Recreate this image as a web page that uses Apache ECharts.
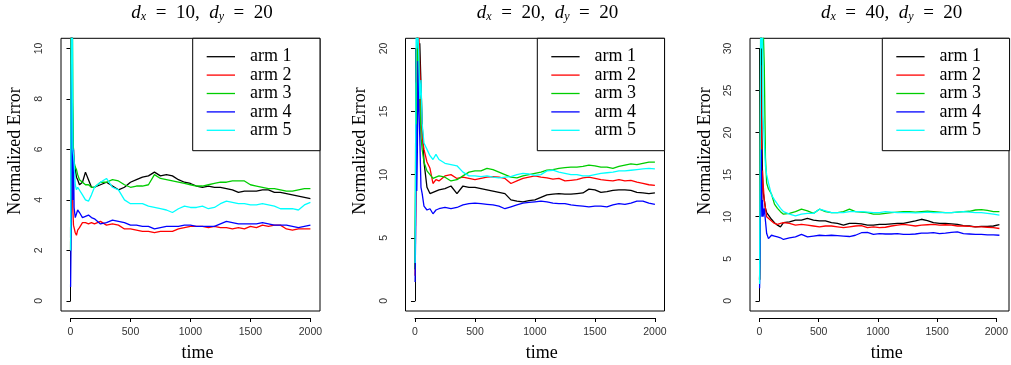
<!DOCTYPE html>
<html>
<head>
<meta charset="utf-8">
<script src="https://cdn.jsdelivr.net/npm/echarts@6/dist/echarts.min.js"></script>
<style>
html,body{margin:0;padding:0;background:#fff;}
#chart{width:1011px;height:365px;}
</style>
</head>
<body>
<div id="chart"></div>
<script>
// ---- data ----
const times = [1,5,10,15,20,25,30,40,50,60,75,100,125,150,175,200,
  250,300,350,400,450,500,550,600,650,700,750,800,850,900,950,1000,1050,1100,1150,1200,
  1250,1300,1350,1400,1450,1500,1550,1600,1650,1700,1750,1800,1850,1900,1950,2000];

const armNames = ['arm 1','arm 2','arm 3','arm 4','arm 5'];
const xTicks = [0,500,1000,1500,2000];

// panel 1: d_x = 10
const p1Arm1 = [2.5,11,13,8,6.5,6.0,5.4,5.2,4.9,4.8,4.6,4.7,5.1,4.8,4.5,4.5,
  4.6,4.7,4.55,4.4,4.5,4.7,4.8,4.9,4.95,5.1,4.95,5.0,4.95,4.8,4.7,4.65,4.55,4.5,4.55,4.5,
  4.5,4.45,4.4,4.3,4.35,4.35,4.35,4.4,4.4,4.3,4.3,4.25,4.2,4.15,4.1,4.05];
const p1Arm2 = [2.0,9,14,5,3.6,3.0,2.9,2.7,2.6,2.8,2.9,3.1,3.1,3.05,3.1,3.05,
  3.15,3.0,3.05,3.0,2.85,2.85,2.8,2.75,2.75,2.7,2.75,2.75,2.75,2.85,2.9,2.95,2.95,2.95,2.9,2.95,
  2.9,2.9,2.85,2.9,2.85,2.95,2.9,3.0,2.95,3.0,3.0,2.85,2.8,2.85,2.85,2.85];
const p1Arm3 = [2.0,10,14,12,8,5.8,5.5,5.3,5.2,5.0,4.8,4.7,4.6,4.6,4.5,4.5,
  4.7,4.7,4.8,4.75,4.6,4.5,4.55,4.55,4.6,5.0,4.85,4.8,4.75,4.7,4.65,4.6,4.55,4.55,4.6,4.65,
  4.7,4.7,4.75,4.75,4.75,4.6,4.55,4.5,4.45,4.45,4.4,4.35,4.35,4.4,4.45,4.45];
const p1Arm4 = [0.55,2.5,12,7.4,4.0,6.0,3.7,3.3,3.3,3.6,3.5,3.3,3.35,3.4,3.3,3.25,
  3.05,3.1,3.2,3.15,3.1,3.0,3.0,2.95,2.95,2.85,2.9,2.95,2.95,2.95,3.0,3.0,2.95,2.95,2.95,2.95,
  3.05,3.15,3.1,3.05,3.05,3.05,3.05,3.1,3.05,3.0,3.0,3.0,2.95,2.9,2.95,3.0];
const p1Arm5 = [2.0,8,14,12,6,5.8,5.5,4.6,4.4,4.5,4.5,4.2,4.0,3.95,4.2,4.5,
  4.7,4.85,4.5,4.4,4.0,3.85,3.85,3.85,3.75,3.7,3.65,3.6,3.5,3.65,3.75,3.7,3.7,3.75,3.65,3.7,
  3.85,3.95,3.9,3.85,3.85,3.8,3.8,3.85,3.8,3.75,3.65,3.65,3.65,3.6,3.8,3.9];

// panel 2: d_x = 20
const p2Arm1 = [2.5,8,15,19,22,18,15,20.4,20.4,14,11,9.0,8.5,8.6,8.7,8.8,
  8.9,9.1,8.5,9.1,9.0,9.0,8.9,8.8,8.7,8.6,8.5,8.0,7.9,7.85,7.95,8.0,8.2,8.4,8.45,8.5,
  8.45,8.45,8.5,8.55,8.85,8.8,8.6,8.65,8.75,8.8,8.8,8.75,8.6,8.55,8.5,8.55];
const p2Arm2 = [2.0,6,14,20,22,16,22,22,15,13,12,11,10.5,9.3,9.6,9.5,
  9.9,10.0,9.7,9.8,9.7,9.6,9.7,9.8,9.85,9.8,9.7,9.3,9.5,9.7,9.8,9.9,9.8,9.75,9.65,9.7,
  9.5,9.55,9.6,9.75,9.8,9.7,9.6,9.55,9.5,9.6,9.5,9.55,9.4,9.3,9.2,9.15];
const p2Arm3 = [2.5,12,17.3,12,22,19,20,16,13,12,11,10.3,10.0,9.7,9.8,9.9,
  9.8,9.5,9.6,9.9,10.2,10.3,10.3,10.5,10.4,10.2,10.0,9.8,9.75,9.9,10.0,10.1,10.2,10.35,10.4,10.5,
  10.55,10.6,10.6,10.65,10.75,10.7,10.6,10.6,10.5,10.65,10.75,10.85,10.8,10.9,11.0,11.0];
const p2Arm4 = [1.5,5,14,8.7,12,19,16,13,9,8.5,7.5,7.2,7.3,6.9,7.2,7.3,
  7.4,7.3,7.4,7.6,7.7,7.75,7.7,7.65,7.6,7.5,7.3,7.45,7.6,7.75,7.8,7.85,7.9,7.85,7.75,7.7,
  7.7,7.6,7.55,7.5,7.45,7.5,7.5,7.45,7.6,7.7,7.65,7.75,7.9,7.9,7.75,7.65];
const p2Arm5 = [3.0,10,22,20,22,21,20,16,17.5,14,12.5,12.0,11.5,11.2,11.6,11.2,
  10.9,10.8,10.7,10.2,9.9,9.9,9.85,9.9,9.8,9.75,9.8,9.85,10.0,10.1,10.05,9.95,10.0,10.3,10.35,10.2,
  10.1,10.0,10.0,9.9,9.9,10.0,10.1,10.15,10.2,10.3,10.3,10.35,10.4,10.45,10.5,10.45];

// panel 3: d_x = 40
const p3Arm1 = [2.5,8,25,33,20,15,13,12,11,10.5,10.2,9.7,9.3,9.0,8.8,9.3,
  9.4,9.6,9.6,9.8,9.6,9.5,9.5,9.3,9.2,9.0,9.2,9.2,9.15,9.0,9.0,9.1,9.1,9.15,9.2,9.2,
  9.35,9.5,9.7,9.55,9.3,9.2,9.2,9.15,9.1,8.95,8.9,8.8,8.85,8.85,8.9,9.05];
const p3Arm2 = [2.5,10,28,20,12,15.5,14,12,11,10,10.0,9.5,9.2,9.1,9.2,9.3,
  9.2,9.0,9.1,9.0,8.9,8.8,8.9,8.9,8.8,8.7,8.8,8.9,8.95,8.7,8.8,8.7,8.75,8.9,9.0,9.1,
  9.0,8.9,9.0,9.05,9.1,9.0,9.05,9.0,8.9,8.9,8.85,8.8,8.8,8.75,8.7,8.6];
const p3Arm3 = [2.5,12,33,35,33,32,33,28,17,14,13.3,12.7,11.5,11.0,10.6,10.3,
  10.4,10.6,10.9,10.7,10.4,10.9,10.6,10.5,10.5,10.6,10.9,10.6,10.55,10.5,10.3,10.3,10.4,10.5,10.55,10.6,
  10.6,10.55,10.6,10.65,10.6,10.55,10.5,10.5,10.55,10.6,10.65,10.8,10.85,10.75,10.6,10.6];
const p3Arm4 = [1.5,6,14,18,10,12,10,11,9.5,8.0,7.4,7.8,7.7,7.6,7.5,7.3,
  7.5,7.6,7.9,7.6,7.7,7.8,7.75,7.8,7.75,7.7,7.65,7.8,8.1,8.15,7.9,8.0,7.95,7.95,8.0,7.9,
  7.9,7.95,8.05,8.05,8.1,8.0,8.05,8.15,8.2,8.0,7.95,7.9,7.9,7.85,7.85,7.8];
const p3Arm5 = [2.0,15,33,35,30,33,22,22,16,15,14,12.6,12.0,11.5,11.0,10.6,
  10.3,10.1,10.3,10.4,10.4,10.9,10.7,10.5,10.5,10.5,10.6,10.6,10.6,10.55,10.5,10.5,10.6,10.55,10.5,10.5,
  10.5,10.45,10.5,10.55,10.5,10.5,10.5,10.5,10.55,10.6,10.55,10.5,10.5,10.4,10.3,10.2];

const yTicks1 = [0,2,4,6,8,10];
const yTicks2 = [0,5,10,15,20];
const yTicks3 = [0,5,10,15,20,25,30];
const titleNums = [['10','20'],['20','20'],['40','20']];

// ---- styling / layout ----
const colors = ['#000000','#FF0000','#00CD00','#0000FF','#00FFFF'];
const SERIF = '"Liberation Serif","DejaVu Serif",serif';
const SANS = '"Liberation Sans",Arial,sans-serif';
const GT = 38.3, GH = 272.7, GW = 259;

const panels = [
  {left:61,    legendLeft:192.7, yTicks:yTicks1, arms:[p1Arm1,p1Arm2,p1Arm3,p1Arm4,p1Arm5], ylabX:15.5,  xlabX:197.5, titleX:202},
  {left:405.5, legendLeft:537.3, yTicks:yTicks2, arms:[p2Arm1,p2Arm2,p2Arm3,p2Arm4,p2Arm5], ylabX:360.5, xlabX:541.7, titleX:547.5},
  {left:750,   legendLeft:882.3, yTicks:yTicks3, arms:[p3Arm1,p3Arm2,p3Arm3,p3Arm4,p3Arm5], ylabX:705,   xlabX:886.7, titleX:891.7}
];

const grid = [], xAxis = [], yAxis = [], series = [], legend = [], graphic = [];
const xMin = xTicks[0], xMax = xTicks[xTicks.length-1];
const xLo = 1 - 0.04*(xMax-1), xHi = xMax + 0.04*(xMax-1);
const plain = v => String(v);

panels.forEach((p, k) => {
  const yMax = p.yTicks[p.yTicks.length-1];
  const yLo = -0.04*yMax, yHi = 1.04*yMax;
  const interval = p.yTicks[1]-p.yTicks[0];
  const g0 = grid.length;
  // main plot box
  grid.push({left:p.left, top:GT, width:GW, height:GH, show:true, borderColor:'#000', borderWidth:1, backgroundColor:'transparent'});
  xAxis.push({gridIndex:g0, type:'value', min:xLo, max:xHi, show:false});
  yAxis.push({gridIndex:g0, type:'value', min:yLo, max:yHi, show:false});
  // y axis (spans ticks only, R-style, offset from box)
  const yTop = GT + GH*(yHi - yMax)/(yHi - yLo);
  const yH = GH*(yMax - 0)/(yHi - yLo);
  grid.push({left:p.left, top:yTop, width:GW, height:yH, show:false});
  xAxis.push({gridIndex:g0+1, type:'value', min:xLo, max:xHi, show:false});
  yAxis.push({gridIndex:g0+1, type:'value', min:0, max:yMax, interval:interval, offset:7,
    axisLine:{show:true, lineStyle:{color:'#000', width:1}},
    axisTick:{show:true, length:4, lineStyle:{color:'#000', width:1}},
    axisLabel:{show:true, rotate:90, margin:9, fontFamily:SANS, fontSize:10.5, color:'#333', showMinLabel:true, showMaxLabel:true, formatter:plain},
    splitLine:{show:false}});
  // x axis
  const xLeft = p.left + GW*(xMin - xLo)/(xHi - xLo);
  const xW = GW*(xMax - xMin)/(xHi - xLo);
  grid.push({left:xLeft, top:GT, width:xW, height:GH, show:false});
  xAxis.push({gridIndex:g0+2, type:'value', min:xMin, max:xMax, interval:500, offset:7, position:'bottom',
    axisLine:{show:true, onZero:false, lineStyle:{color:'#000', width:1}},
    axisTick:{show:true, length:4, lineStyle:{color:'#000', width:1}},
    axisLabel:{show:true, margin:9, fontFamily:SANS, fontSize:10.5, color:'#333', showMinLabel:true, showMaxLabel:true, formatter:plain},
    splitLine:{show:false}});
  yAxis.push({gridIndex:g0+2, type:'value', min:yLo, max:yHi, show:false});

  p.arms.forEach((arr, i) => {
    series.push({
      type:'line', name:armNames[i], xAxisIndex:g0, yAxisIndex:g0,
      data: times.map((t, j) => [t, arr[j]]),
      showSymbol:false, symbol:'none', clip:true, silent:true,
      lineStyle:{color:colors[i], width:1.3}, itemStyle:{color:colors[i]}
    });
  });

  legend.push({
    left:p.legendLeft, top:GT, orient:'vertical', selectedMode:false,
    data:armNames, icon:'rect', itemWidth:28.3, itemHeight:1.3, itemGap:0,
    padding:[9.2, 28.5, 11.2, 14], borderColor:'#000', borderWidth:1, backgroundColor:'#fff',
    textStyle:{fontFamily:SERIF, fontSize:18, color:'#000', lineHeight:18.4, padding:[0,0,0,10]}
  });

  graphic.push({type:'text', x:p.ylabX, y:151, rotation:Math.PI/2, silent:true,
    style:{text:'Normalized Error', font:'18px ' + SERIF, fill:'#000', align:'center', verticalAlign:'middle', textAlign:'center', textVerticalAlign:'middle'}});
  graphic.push({type:'text', x:p.xlabX, y:353, silent:true,
    style:{text:'time', font:'18px ' + SERIF, fill:'#000', align:'center', verticalAlign:'middle', textAlign:'center', textVerticalAlign:'middle'}});
  const tn = titleNums[k];
  graphic.push({type:'text', x:p.titleX, y:13, silent:true,
    style:{
      text:'{i|d}{s|x}{n|  =  ' + tn[0] + ',  }{i|d}{s|y}{n|  =  ' + tn[1] + '}',
      align:'center', verticalAlign:'middle', textAlign:'center', textVerticalAlign:'middle',
      fill:'#000',
      rich:{
        i:{fontFamily:SERIF, fontStyle:'italic', fontSize:19, lineHeight:20, fill:'#000', color:'#000'},
        n:{fontFamily:SERIF, fontSize:19, lineHeight:20, fill:'#000', color:'#000'},
        s:{fontFamily:SERIF, fontStyle:'italic', fontSize:12, lineHeight:8, verticalAlign:'bottom', fill:'#000', color:'#000'}
      }
    }});
});

const chart = echarts.init(document.getElementById('chart'), null, {renderer:'canvas'});
chart.setOption({
  animation:false,
  backgroundColor:'#fff',
  grid, xAxis, yAxis, series, legend, graphic
});
</script>
</body>
</html>
